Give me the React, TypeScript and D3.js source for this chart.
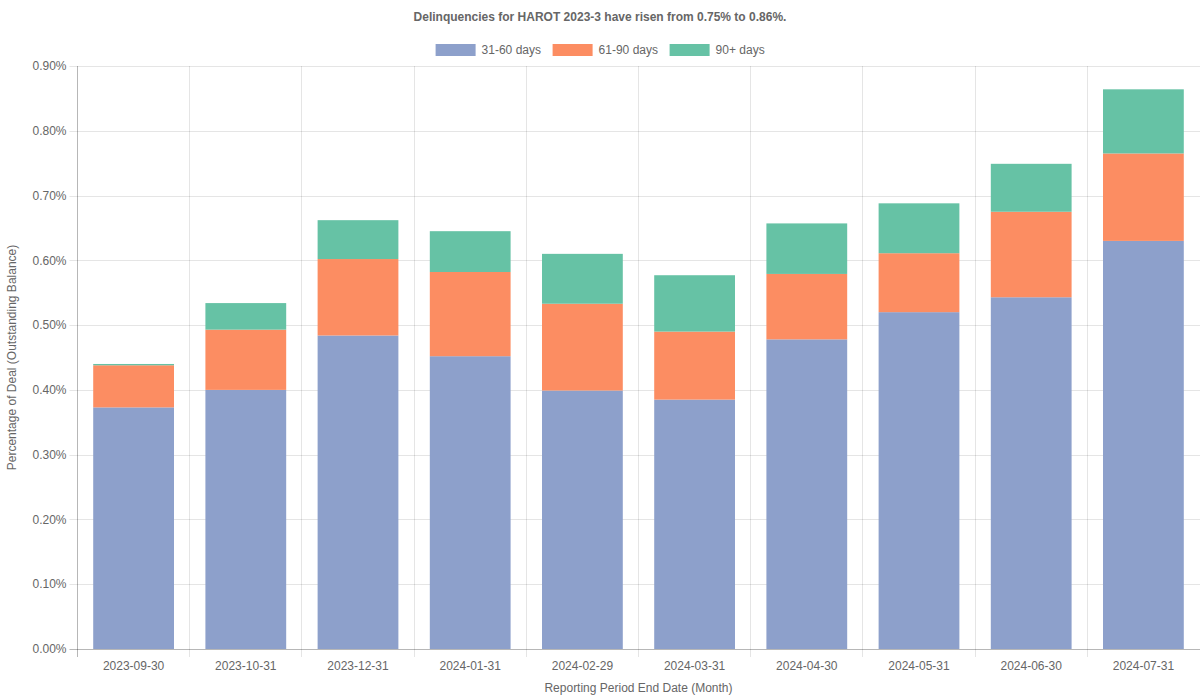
import React from "react";
import * as d3 from "d3";

const categories = [
  "2023-09-30", "2023-10-31", "2023-12-31", "2024-01-31", "2024-02-29",
  "2024-03-31", "2024-04-30", "2024-05-31", "2024-06-30", "2024-07-31",
];
const seriesNames = ["31-60 days", "61-90 days", "90+ days"];
const seriesColors = ["#8da0cb", "#fc8d62", "#66c2a5"];
const days31to60 = [0.373, 0.400, 0.484, 0.452, 0.399, 0.385, 0.478, 0.520, 0.543, 0.630];
const days61to90 = [0.065, 0.093, 0.118, 0.130, 0.134, 0.105, 0.101, 0.091, 0.132, 0.135];
const days90plus = [0.002, 0.041, 0.060, 0.063, 0.077, 0.087, 0.078, 0.077, 0.074, 0.099];
const yTicks = [0, 0.1, 0.2, 0.3, 0.4, 0.5, 0.6, 0.7, 0.8, 0.9];
const title = "Delinquencies for HAROT 2023-3 have risen from 0.75% to 0.86%.";
const xTitle = "Reporting Period End Date (Month)";
const yTitle = "Percentage of Deal (Outstanding Balance)";

const W = 1200, H = 700;
const M = { left: 77.5, right: 0.5, top: 66, bottom: 51 };
const FONT = "'Liberation Sans', Arial, Helvetica, sans-serif";
const TXT = "#666";

export default function App() {
  const x = d3.scaleBand().domain(categories).range([M.left, W - M.right]).paddingInner(0).paddingOuter(0);
  const y = d3.scaleLinear().domain([0, 0.9]).range([H - M.bottom, M.top]);
  const rows = categories.map((c, i) => ({ c, s0: days31to60[i], s1: days61to90[i], s2: days90plus[i] }));
  const stack = d3.stack<any>().keys(["s0", "s1", "s2"])(rows);
  const bw = x.bandwidth() * 0.72;
  const plotBottom = H - M.bottom;

  // legend layout
  const legendItems = seriesNames.map((n) => ({ n, w: 40 + 6 + n.length * 6.1 }));
  const gap = 10;
  const totalW = legendItems.reduce((a, b) => a + b.w, 0) + gap * (legendItems.length - 1);
  let lx = W / 2 - totalW / 2;
  const legendPos = legendItems.map((it) => { const p = lx; lx += it.w + gap; return p; });

  return (
    <div style={{ position: "fixed", left: 0, top: 0 }}>
      <svg width={W} height={H} style={{ display: "block", background: "#fff" }} fontFamily={FONT}>
        {/* grid */}
        {yTicks.map((t) => (
          <g key={"y" + t}>
            <line x1={M.left - 8} x2={W} y1={Math.round(y(t)) + 0.5} y2={Math.round(y(t)) + 0.5} stroke="rgba(0,0,0,0.1)" />
            <text x={M.left - 11} y={y(t)} dy="0.35em" textAnchor="end" fontSize={12} fill={TXT}>{t.toFixed(2) + "%"}</text>
          </g>
        ))}
        {categories.map((c) => (
          <line key={"vx" + c} x1={Math.floor(x(c)!) + 0.5} x2={Math.floor(x(c)!) + 0.5} y1={M.top} y2={plotBottom + 8} stroke="rgba(0,0,0,0.1)" />
        ))}
        {/* bars */}
        {stack.map((layer, si) => (
          <g key={"s" + si} fill={seriesColors[si]}>
            {layer.map((d: any, i: number) => (
              <rect key={i} x={x(categories[i])! + (x.bandwidth() - bw) / 2} width={bw}
                y={y(d[1])} height={Math.max(0, y(d[0]) - y(d[1]))} />
            ))}
          </g>
        ))}
        {/* axes lines */}
        <line x1={Math.floor(M.left) + 0.5} x2={Math.floor(M.left) + 0.5} y1={M.top} y2={plotBottom + 8} stroke="rgba(0,0,0,0.2)" />
        <line x1={M.left - 8} x2={W} y1={plotBottom + 0.5} y2={plotBottom + 0.5} stroke="rgba(0,0,0,0.2)" />
        {categories.map((c) => (
          <text key={"xl" + c} x={x(c)! + x.bandwidth() / 2} y={plotBottom + 17} dy="0.35em" textAnchor="middle" fontSize={12} fill={TXT}>{c}</text>
        ))}
        {/* titles */}
        <text x={W / 2} y={17} dy="0.35em" textAnchor="middle" fontSize={12} fontWeight="bold" fill={TXT}>{title}</text>
        <text x={(M.left + W - M.right) / 2} y={688} dy="0.35em" textAnchor="middle" fontSize={12} fill={TXT}>{xTitle}</text>
        <text transform={`translate(12,${(M.top + plotBottom) / 2}) rotate(-90)`} dy="0.35em" textAnchor="middle" fontSize={12} fill={TXT}>{yTitle}</text>
        {/* legend */}
        {legendItems.map((it, i) => (
          <g key={"lg" + i} transform={`translate(${legendPos[i]},44)`}>
            <rect x={0} y={0} width={40} height={12} fill={seriesColors[i]} />
            <text x={46} y={6} dy="0.35em" fontSize={12} fill={TXT}>{it.n}</text>
          </g>
        ))}
      </svg>
    </div>
  );
}
